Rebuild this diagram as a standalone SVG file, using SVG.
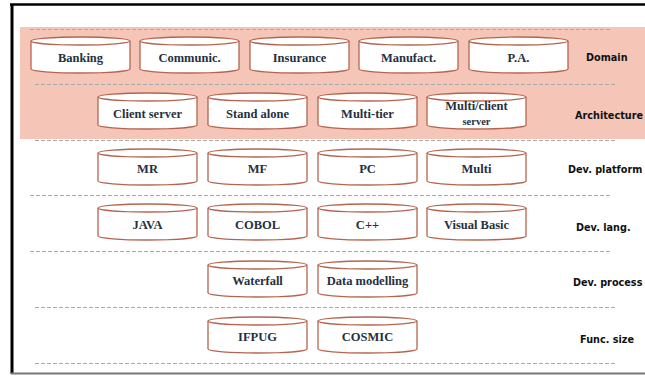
<svg xmlns="http://www.w3.org/2000/svg" width="645" height="376" viewBox="0 0 645 376">
<style>
.cyl{fill:#fff;stroke:#b5654f;stroke-width:1.3}
.t{font-family:"Liberation Serif","Times New Roman",serif;font-weight:bold;font-size:12.5px;fill:#26303f;text-anchor:middle}
.lbl{font-family:"DejaVu Sans",Verdana,sans-serif;font-weight:bold;font-size:9.7px;fill:#111}
.sep{stroke:#aaa;stroke-width:1;stroke-dasharray:4 2;fill:none}
</style>
<defs>
<g id="cy">
<path class="cyl" d="M0,4 A49.5,4 0 0 1 99,4 V32 A49.5,4 0 0 1 0,32 Z"/>
<path class="cyl" d="M0,4 A49.5,4 0 0 0 99,4" fill="none"/>
</g>
</defs>
<rect x="0" y="0" width="645" height="376" fill="#fff"/>
<rect x="20" y="27" width="625" height="112" fill="#f5c6b8"/>
<line x1="10" y1="4.5" x2="645" y2="4.5" stroke="#000" stroke-width="2.5"/>
<line x1="12" y1="4" x2="12" y2="374" stroke="#000" stroke-width="3"/>
<line x1="11" y1="373.5" x2="645" y2="373.5" stroke="#777" stroke-width="2"/>
<g id="connectors">
<line class="sep" x1="30" y1="29.5" x2="610" y2="29.5"/>
<line class="sep" x1="35" y1="84.5" x2="617" y2="84.5"/>
<line class="sep" x1="35" y1="140.5" x2="615" y2="140.5"/>
<line class="sep" x1="30" y1="195.5" x2="610" y2="195.5"/>
<line class="sep" x1="30" y1="251.5" x2="610" y2="251.5"/>
<line class="sep" x1="35" y1="307.5" x2="617" y2="307.5"/>
<line class="sep" x1="35" y1="363.5" x2="617" y2="363.5"/>
</g>
<g id="banking"><use href="#cy" x="31" y="37"/><text class="t" x="80.5" y="62">Banking</text></g>
<g id="communic"><use href="#cy" x="140" y="37"/><text class="t" x="189.5" y="62">Communic.</text></g>
<g id="insurance"><use href="#cy" x="250" y="37"/><text class="t" x="299.5" y="62">Insurance</text></g>
<g id="manufact"><use href="#cy" x="359" y="37"/><text class="t" x="408.5" y="62">Manufact.</text></g>
<g id="pa"><use href="#cy" x="469" y="37"/><text class="t" x="518.5" y="62">P.A.</text></g>
<g id="client-server"><use href="#cy" x="98" y="93"/><text class="t" x="147.5" y="118">Client server</text></g>
<g id="stand-alone"><use href="#cy" x="208" y="93"/><text class="t" x="257.5" y="118">Stand alone</text></g>
<g id="multi-tier"><use href="#cy" x="318" y="93"/><text class="t" x="367.5" y="118">Multi-tier</text></g>
<g id="multi-client"><use href="#cy" x="427" y="93"/><text class="t" x="476.5" y="110">Multi/client</text><text class="t" x="476.5" y="125" style="font-size:10.5px">server</text></g>
<g id="mr"><use href="#cy" x="98" y="149"/><text class="t" x="147.5" y="173">MR</text></g>
<g id="mf"><use href="#cy" x="208" y="149"/><text class="t" x="257.5" y="173">MF</text></g>
<g id="pc"><use href="#cy" x="318" y="149"/><text class="t" x="367.5" y="173">PC</text></g>
<g id="multi"><use href="#cy" x="427" y="149"/><text class="t" x="476.5" y="173">Multi</text></g>
<g id="java"><use href="#cy" x="98" y="204"/><text class="t" x="147.5" y="229">JAVA</text></g>
<g id="cobol"><use href="#cy" x="208" y="204"/><text class="t" x="257.5" y="229">COBOL</text></g>
<g id="cpp"><use href="#cy" x="318" y="204"/><text class="t" x="367.5" y="229">C++</text></g>
<g id="vb"><use href="#cy" x="427" y="204"/><text class="t" x="476.5" y="229">Visual Basic</text></g>
<g id="waterfall"><use href="#cy" x="208" y="261"/><text class="t" x="257.5" y="285">Waterfall</text></g>
<g id="data-modelling"><use href="#cy" x="318" y="261"/><text class="t" x="367.5" y="285">Data modelling</text></g>
<g id="ifpug"><use href="#cy" x="208" y="317"/><text class="t" x="257.5" y="341">IFPUG</text></g>
<g id="cosmic"><use href="#cy" x="318" y="317"/><text class="t" x="367.5" y="341">COSMIC</text></g>
<g id="labels">
<text class="lbl" x="586" y="61">Domain</text>
<text class="lbl" x="575" y="119">Architecture</text>
<text class="lbl" x="568" y="173">Dev. platform</text>
<text class="lbl" x="573" y="286">Dev. process</text>
<text class="lbl" x="576" y="231">Dev. lang.</text>
<text class="lbl" x="580" y="343">Func. size</text>
</g>
</svg>
